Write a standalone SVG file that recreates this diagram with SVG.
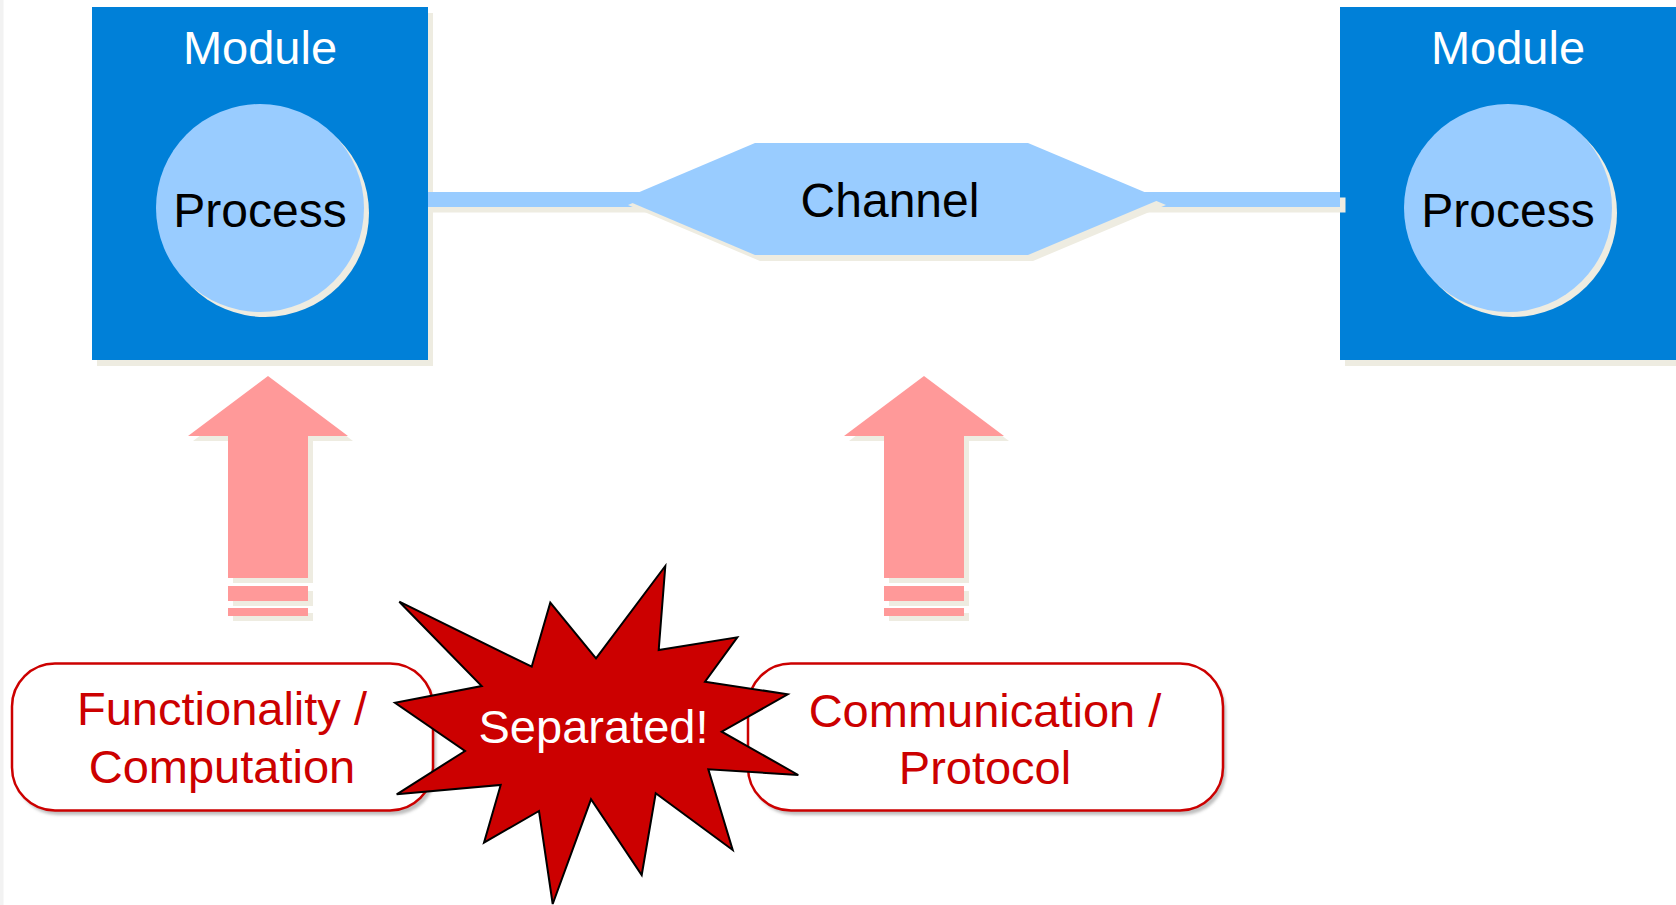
<svg xmlns="http://www.w3.org/2000/svg" width="1676" height="905" viewBox="0 0 1676 905">
<style>
.t{font-family:"Liberation Sans",Arial,sans-serif;text-anchor:middle}
.mod{fill:#0080D8}
.sh{fill:#EEECE1}
.lb{fill:#99CCFF}
.pk{fill:#FF9999}
.box{fill:#ffffff;stroke:#CC0000;stroke-width:2.5}
.rt{fill:#CC0000;font-size:47px}
</style>
<defs>
<filter id="blur" x="-10%" y="-10%" width="120%" height="130%"><feGaussianBlur stdDeviation="1.8"/></filter>
<g id="arrow">
<path d="M0,0 L80,60 L40,60 L40,202 L-40,202 L-40,60 L-80,60 Z"/>
<rect x="-40" y="210" width="80" height="15"/>
<rect x="-40" y="232" width="80" height="8"/>
</g>
</defs>
<rect x="0" y="0" width="1676" height="905" fill="#ffffff"/>
<rect x="0" y="0" width="3.5" height="905" fill="#F2F2F2"/>

<g id="module-left">
<rect class="sh" x="97" y="13" width="336" height="353"/>
<rect class="mod" x="92" y="7" width="336" height="353"/>
<text class="t" x="260" y="64" font-size="47" fill="#ffffff">Module</text>
<g id="process-left">
<circle class="sh" cx="265" cy="213" r="104"/>
<circle class="lb" cx="260" cy="208" r="104"/>
<text class="t" x="260" y="227" font-size="48" fill="#000000">Process</text>
</g>
</g>

<g id="module-right">
<rect class="sh" x="1345" y="13" width="336" height="353"/>
<rect class="mod" x="1340" y="7" width="336" height="353"/>
<text class="t" x="1508" y="64" font-size="47" fill="#ffffff">Module</text>
<g id="process-right">
<circle class="sh" cx="1513" cy="213" r="104"/>
<circle class="lb" cx="1508" cy="208" r="104"/>
<text class="t" x="1508" y="227" font-size="48" fill="#000000">Process</text>
</g>
</g>

<g id="connectors">
<rect class="sh" x="433" y="197.5" width="912.5" height="15"/>
<rect class="lb" x="428" y="192" width="912" height="15"/>
</g>

<g id="channel">
<polygon class="sh" points="628,205 760,149 1033,149 1166,205 1033,261 760,261"/>
<polygon class="lb" points="623,199 755,143 1028,143 1161,199 1028,255 755,255"/>
<text class="t" x="890" y="217" font-size="48" fill="#000000">Channel</text>
</g>

<g id="arrow-left">
<use href="#arrow" x="273" y="381" class="sh"/>
<use href="#arrow" x="268" y="376" class="pk"/>
</g>
<g id="arrow-right">
<use href="#arrow" x="929" y="381" class="sh"/>
<use href="#arrow" x="924" y="376" class="pk"/>
</g>

<g id="functionality">
<rect x="15" y="668" width="421" height="147" rx="43" ry="43" fill="#BFBFBF" filter="url(#blur)"/>
<rect class="box" x="12" y="663.5" width="421" height="147" rx="43" ry="43"/>
<text class="t rt" x="222" y="725">Functionality /</text>
<text class="t rt" x="222" y="783">Computation</text>
</g>

<g id="communication">
<rect x="751" y="668" width="475" height="147" rx="43" ry="43" fill="#BFBFBF" filter="url(#blur)"/>
<rect class="box" x="748" y="663.5" width="475" height="147" rx="43" ry="43"/>
<text class="t rt" x="985" y="727">Communication /</text>
<text class="t rt" x="985" y="784">Protocol</text>
</g>

<g id="separated">
<polygon points="399.3,601.7 531.7,666.7 550.3,602.7 596,658.3 665.3,566 658.7,650 737.3,637.3 705,681.7 787.7,694.3 721.7,731.7 798.3,775 708.3,769.3 732.7,850 655.7,793.3 641.7,875 591,799.3 552.7,904 539,811 484,842.7 500.7,785 396.7,794.3 465,751 395,702.7 481.7,686" fill="#CC0000" stroke="#000000" stroke-width="2" stroke-linejoin="miter"/>
<text class="t" x="593.5" y="743" font-size="47" fill="#ffffff">Separated!</text>
</g>
</svg>
